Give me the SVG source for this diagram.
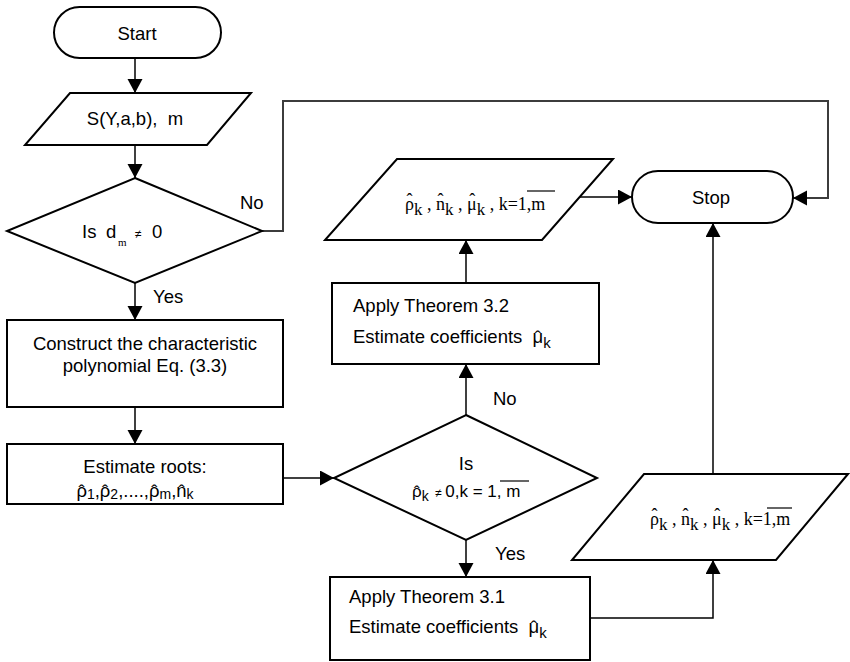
<svg xmlns="http://www.w3.org/2000/svg" width="850" height="662" viewBox="0 0 850 662">
  <defs>
    <marker id="arrow" markerUnits="userSpaceOnUse" markerWidth="16" markerHeight="16" refX="14" refY="7.5" orient="auto">
      <path d="M0,0 L14,7.5 L0,15 z" fill="#000"/>
    </marker>
    <style>
      .shape { fill: #fff; stroke: #000; stroke-width: 2; }
      .conn { fill: none; stroke: #000; stroke-width: 1.5; marker-end: url(#arrow); }
      .conn-gray { fill: none; stroke: #3c3c3c; stroke-width: 2; marker-end: url(#arrow); }
      .lbl { font-family: "Liberation Sans", Arial, sans-serif; font-size: 18.5px; fill: #000; }
      .math { font-family: "Liberation Serif", "Times New Roman", serif; font-size: 18px; fill: #000; }
      .bar { stroke: #000; stroke-width: 1.2; }
    </style>
  </defs>

  <!-- connectors -->
  <g id="connectors">
    <path class="conn" d="M135,58 V93"/>
    <path class="conn" d="M135,145 V178"/>
    <path class="conn" d="M135,283 V320"/>
    <path class="conn" d="M135,407 V444"/>
    <path class="conn" d="M283,478 H334"/>
    <path class="conn" d="M466,415 V364"/>
    <path class="conn" d="M466,283 V240"/>
    <path class="conn" d="M580,197 H632"/>
    <path class="conn-gray" d="M262,231 H283 V101 H828 V198 H793"/>
    <path class="conn" d="M466,540 V577"/>
    <path class="conn" d="M590,618 H713 V560"/>
    <path class="conn" d="M713,474 V223"/>
    <text class="lbl" x="240" y="209">No</text>
    <text class="lbl" x="153" y="303">Yes</text>
    <text class="lbl" x="493" y="405">No</text>
    <text class="lbl" x="495" y="560">Yes</text>
  </g>

  <!-- terminator: start -->
  <g id="start">
    <rect class="shape" x="54" y="7" width="167" height="51" rx="25.5" ry="25.5"/>
    <text class="lbl" x="137" y="40" text-anchor="middle">Start</text>
  </g>

  <!-- input data -->
  <g id="input">
    <polygon class="shape" points="70,93 251,93 207,145 25,145"/>
    <text class="lbl" x="135" y="125" text-anchor="middle" xml:space="preserve">S(Y,a,b),  m</text>
  </g>

  <!-- decision: d_m != 0 -->
  <g id="check-dm">
    <polygon class="shape" points="135,178 262,231 135,283 7,231"/>
    <text class="lbl" x="82" y="238">Is</text>
    <text class="lbl" x="106" y="238">d</text>
    <text class="math" x="118" y="246" style="font-size:11px">m</text>
    <text class="lbl" x="135" y="238" style="font-size:12px">≠</text>
    <text class="lbl" x="152" y="238">0</text>
  </g>

  <!-- characteristic polynomial -->
  <g id="construct">
    <rect class="shape" x="7" y="320" width="276" height="87"/>
    <text class="lbl" x="145" y="350" text-anchor="middle">Construct the characteristic</text>
    <text class="lbl" x="145" y="372" text-anchor="middle">polynomial Eq. (3.3)</text>
  </g>

  <!-- root estimation -->
  <g id="roots">
    <rect class="shape" x="7" y="444" width="276" height="60"/>
    <text class="lbl" x="145" y="473" text-anchor="middle">Estimate roots:</text>
    <text class="lbl" x="135" y="497" text-anchor="middle">ρ<tspan dx="-8.4" dy="1">ˆ</tspan><tspan dx="2.2" dy="1" font-size="14">1</tspan><tspan dy="-2">,ρ</tspan><tspan dx="-8.4" dy="1">ˆ</tspan><tspan dx="2.2" dy="1" font-size="14">2</tspan><tspan dy="-2">,....,ρ</tspan><tspan dx="-8.4" dy="1">ˆ</tspan><tspan dx="2.2" dy="1" font-size="14">m</tspan><tspan dy="-2">,n</tspan><tspan dx="-8.2" dy="1">ˆ</tspan><tspan dx="2" dy="1" font-size="14">k</tspan></text>
  </g>

  <!-- decision: rho_k != 0 -->
  <g id="check-rho">
    <polygon class="shape" points="466,415 597,478 466,540 334,478"/>
    <text class="lbl" x="466" y="470" text-anchor="middle">Is</text>
    <text class="lbl" x="412" y="497" style="font-size:17px" xml:space="preserve">ρ<tspan dx="-7.7" dy="1">ˆ</tspan><tspan dx="2" dy="3" font-size="14">k</tspan><tspan dy="-4" font-size="12">  ≠ </tspan><tspan>0,k = 1, m</tspan></text>
    <line class="bar" x1="500" y1="481" x2="529" y2="481"/>
  </g>

  <!-- theorem 3.2 -->
  <g id="theorem-32">
    <rect class="shape" x="332" y="283" width="267" height="81"/>
    <text class="lbl" x="353" y="312">Apply Theorem 3.2</text>
    <text class="lbl" x="353" y="343" xml:space="preserve">Estimate coefficients  μ<tspan dx="-8.4" dy="1">ˆ</tspan><tspan dx="2.2" dy="4" font-size="15">k</tspan></text>
  </g>

  <!-- output from theorem 3.2 -->
  <g id="output-32">
    <polygon class="shape" points="397,159 613,159 542,240 325,240"/>
    <text class="math" x="405" y="210">ρ<tspan dx="-7.5" dy="-4">ˆ</tspan><tspan dx="1.5" dy="9" font-size="17">k</tspan><tspan dy="-5"> , n</tspan><tspan dx="-7.5" dy="-4">ˆ</tspan><tspan dx="1.5" dy="9" font-size="17">k</tspan><tspan dy="-5"> , μ</tspan><tspan dx="-7.5" dy="-4">ˆ</tspan><tspan dx="1.5" dy="9" font-size="17">k</tspan><tspan dy="-5"> , k=1,m</tspan></text>
    <line class="bar" x1="527" y1="191" x2="555" y2="191"/>
  </g>

  <!-- terminator: stop -->
  <g id="stop">
    <rect class="shape" x="632" y="171" width="161" height="52" rx="26" ry="26"/>
    <text class="lbl" x="711" y="204" text-anchor="middle">Stop</text>
  </g>

  <!-- theorem 3.1 -->
  <g id="theorem-31">
    <rect class="shape" x="330" y="577" width="260" height="83"/>
    <text class="lbl" x="349" y="603">Apply Theorem 3.1</text>
    <text class="lbl" x="349" y="633" xml:space="preserve">Estimate coefficients  μ<tspan dx="-8.4" dy="1">ˆ</tspan><tspan dx="2.2" dy="4" font-size="15">k</tspan></text>
  </g>

  <!-- output from theorem 3.1 -->
  <g id="output-31">
    <polygon class="shape" points="644,474 848,474 776,560 572,560"/>
    <text class="math" x="650" y="525">ρ<tspan dx="-7.5" dy="-4">ˆ</tspan><tspan dx="1.5" dy="9" font-size="17">k</tspan><tspan dy="-5"> , n</tspan><tspan dx="-7.5" dy="-4">ˆ</tspan><tspan dx="1.5" dy="9" font-size="17">k</tspan><tspan dy="-5"> , μ</tspan><tspan dx="-7.5" dy="-4">ˆ</tspan><tspan dx="1.5" dy="9" font-size="17">k</tspan><tspan dy="-5"> , k=1,m</tspan></text>
    <line class="bar" x1="767" y1="508" x2="792" y2="508"/>
  </g>
</svg>
